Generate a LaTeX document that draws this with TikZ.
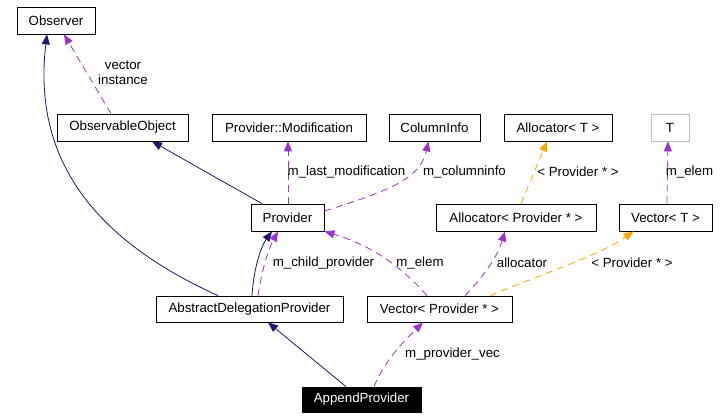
\documentclass[tikz,border=0pt]{standalone}
\usepackage{fontspec}
\setmainfont{Liberation Sans}
\usepackage{xcolor}
\usepackage{tikz}
\usetikzlibrary{positioning, arrows.meta, calc}

\definecolor{inhblue}{HTML}{191970}
\definecolor{usepurple}{HTML}{9A32CD}
\definecolor{tmplorange}{HTML}{FFA500}
\definecolor{extgray}{HTML}{BFBFBF}

\begin{document}
\begin{tikzpicture}[
  x=1pt, y=-1pt,
  font=\fontsize{13.3}{15.5}\selectfont,
  cls/.style={
    draw,
    minimum height=27pt,
    inner sep=0pt,
    line width=0.8pt
  },
  inh/.style={-{Triangle[length=10pt, width=8pt]}, inhblue, line width=0.8pt},
  use/.style={-{Triangle[length=10pt, width=8pt]}, usepurple, line width=0.8pt, dash pattern=on 7pt off 5pt},
  tmpl/.style={-{Triangle[length=10pt, width=8pt]}, tmplorange, line width=0.8pt, dash pattern=on 7pt off 5pt},
  elabel/.style={inner sep=0pt, align=center}
]
\useasboundingbox (0,0) rectangle (725,419);

\node[cls, minimum width=78pt] (obs) at (56,20.5) {Observer};
\node[cls, minimum width=131pt] (obsobj) at (122.5,127.5) {ObservableObject};
\node[cls, minimum width=154pt] (pmod) at (289,127.5) {Provider::Modification};
\node[cls, minimum width=91pt] (colinfo) at (434.5,127.5) {ColumnInfo};
\node[cls, minimum width=108pt] (alloct) at (558,127.5) {Allocator< T >};
\node[cls, minimum width=38pt, draw=extgray] (t) at (670,127.5) {T};
\node[cls, minimum width=73pt] (prov) at (287.5,217.5) {Provider};
\node[cls, minimum width=160pt] (allocp) at (516,217.5) {Allocator< Provider * >};
\node[cls, minimum width=93pt] (vect) at (665.5,217.5) {Vector< T >};
\node[cls, minimum width=187pt, minimum height=26pt] (adp) at (249.5,309) {AbstractDelegationProvider};
\node[cls, minimum width=145pt, minimum height=26pt] (vecp) at (439.5,309) {Vector< Provider * >};
\node[cls, minimum width=119pt, minimum height=25pt, fill=black, text=white] (append) at (361.5,399.5) {AppendProvider};

% inheritance
\draw[inh] ($(adp.north)+(-31.5,0)$) .. controls (95,240) and (32,160) .. ($(obs.south)+(-9,0)$);
\draw[inh] ($(prov.north)+(-25.5,0)$) -- ($(obsobj.south)+(29.5,0)$);
\draw[inh] ($(adp.north)+(2.5,0)$) .. controls (254,265) and (262,245) .. ($(prov.south)+(-15.5,0)$);
\draw[inh] ($(append.north)+(-15.5,0)$) -- ($(adp.south)+(18.5,0)$);

% usage
\draw[use] ($(obsobj.north)+(-11.5,0)$) -- ($(obs.south)+(8,0)$);
\draw[use] ($(prov.north)+(0.5,0)$) -- ($(pmod.south)+(-1,0)$);
\draw[use] ($(prov.east)+(0,-6.5)$) .. controls (385,192) and (420,180) .. ($(colinfo.south)+(-6,0)$);
\draw[use] ($(vect.north)+(1.5,0)$) -- ($(t.south)+(-2,0)$);
\draw[use] ($(adp.north)+(8.5,0)$) .. controls (262,270) and (268,250) .. ($(prov.south)+(-9.5,0)$);
\draw[use] ($(vecp.north)+(-12.5,0)$) .. controls (400,265) and (370,245) .. (prov.south east);
\draw[use] ($(vecp.north)+(25.5,0)$) .. controls (485,275) and (498,255) .. ($(allocp.south)+(-11,0)$);
\draw[use] ($(append.north)+(12.5,0)$) .. controls (385,360) and (405,340) .. ($(vecp.south)+(-16.5,0)$);

% templates
\draw[tmpl] ($(allocp.north)+(5,0)$) -- ($(alloct.south)+(-11,0)$);
\draw[tmpl] ($(vecp.north)+(50.5,0)$) .. controls (540,275) and (600,255) .. ($(vect.south)+(-32,0)$);

\node[elabel] (lvec) at (123,73) {vector\\instance};
\node[elabel] (llast) at (346.5,172) {m\_last\_modification};
\node[elabel] (lcol) at (464.5,172) {m\_columninfo};
\node[elabel] (lallt) at (578,172) {< Provider * >};
\node[elabel] (lelemt) at (689.5,172) {m\_elem};
\node[elabel] (lchild) at (323.5,263) {m\_child\_provider};
\node[elabel] (lelem) at (420,263) {m\_elem};
\node[elabel] (lalloc) at (522,263) {allocator};
\node[elabel] (lvect) at (632,263) {< Provider * >};
\node[elabel] (lpvec) at (452.5,354) {m\_provider\_vec};
\end{tikzpicture}
\end{document}
